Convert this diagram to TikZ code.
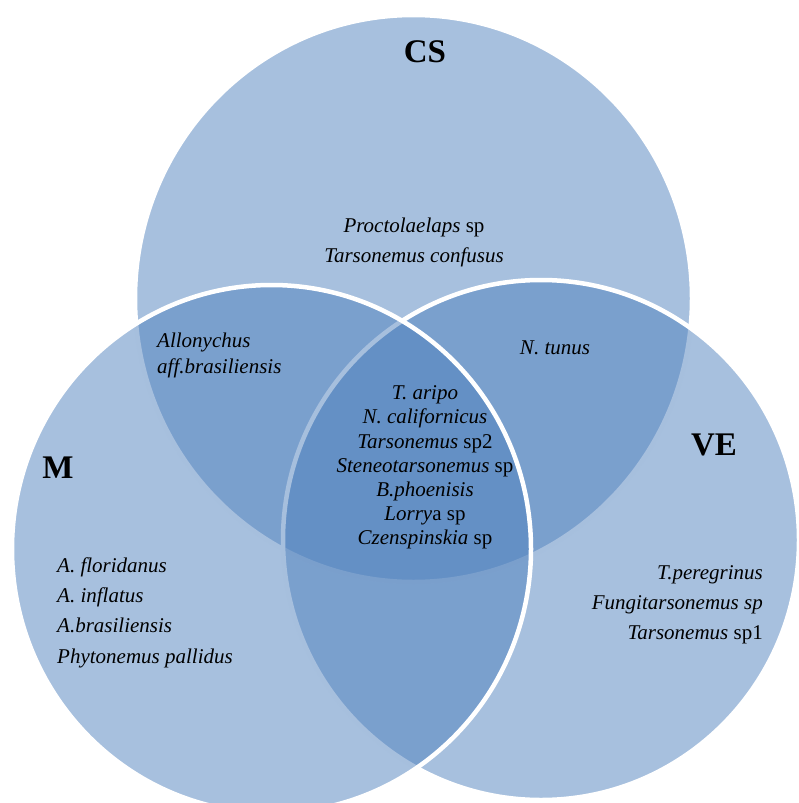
\documentclass[tikz,border=0pt]{standalone}
\usepackage{fontspec}
\setmainfont{Liberation Serif}
\definecolor{acc}{HTML}{4F81BD}
\begin{document}
\begin{tikzpicture}[x=1pt,y=-1pt,
  setc/.style={draw=white, line width=4.5pt, fill=acc, fill opacity=0.5},
  lbl/.style={font=\fontsize{33}{36}\selectfont\bfseries, inner sep=0pt},
  spc/.style={inner sep=0pt, text=black}]
\useasboundingbox (0,0) rectangle (799,803);
\clip (0,0) rectangle (799,803);
% sets: CS first, then VE, then M on top
\path[setc] (413.5,298.5) ellipse [x radius=278.5, y radius=283.5];
\path[setc] (541,540) ellipse [x radius=258, y radius=260];
\path[setc] (271.5,549) ellipse [x radius=259.5, y radius=264];
% set labels
\node[lbl] (lcs) at (425,52) {CS};
\node[lbl] (lm) at (58,468) {M};
\node[lbl] (lve) at (714,445) {VE};
% region texts
\node[spc, align=center, font=\fontsize{21}{30}\selectfont] (tcs) at (414,242)
  {\textit{Proctolaelaps} sp\\\textit{Tarsonemus confusus}};
\node[spc, align=left, anchor=west, font=\fontsize{21}{26}\selectfont] (tcsm) at (157,355)
  {\textit{Allonychus}\\\textit{aff.brasiliensis}};
\node[spc, font=\fontsize{21}{26}\selectfont] (tcsve) at (555,348) {\textit{N. tunus}};
\node[spc, align=center, font=\fontsize{21}{24.2}\selectfont] (tall) at (425,467.5)
  {\textit{T. aripo}\\\textit{N. californicus}\\\textit{Tarsonemus} sp2\\\textit{Steneotarsonemus} sp\\\textit{B.phoenisis}\\\textit{Lorry}a sp\\\textit{Czenspinskia} sp};
\node[spc, align=left, anchor=west, font=\fontsize{21}{30.3}\selectfont] (tm) at (57,612.5)
  {\textit{A. floridanus}\\\textit{A. inflatus}\\\textit{A.brasiliensis}\\\textit{Phytonemus pallidus}};
\node[spc, align=right, anchor=east, font=\fontsize{21}{30}\selectfont] (tve) at (763,605)
  {\textit{T.peregrinus}\\\textit{Fungitarsonemus sp}\\\textit{Tarsonemus} sp1};
\end{tikzpicture}
\end{document}
